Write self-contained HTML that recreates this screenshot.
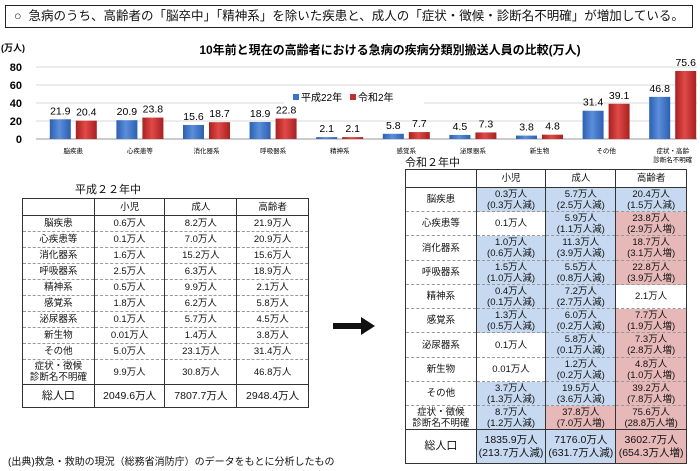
<!DOCTYPE html>
<html><head><meta charset="utf-8">
<style>
*{margin:0;padding:0;box-sizing:border-box}
body{width:700px;height:471px;background:#fff;position:relative;overflow:hidden;font-family:"Liberation Sans","Noto Sans CJK JP",sans-serif;color:#111}
.banner{position:absolute;left:5px;top:5px;width:688px;height:23px;border:1.5px solid #222;font-size:12.5px;line-height:20px;padding-left:8px}
table{position:absolute;border-collapse:collapse;font-size:9.5px;text-align:center}
td{border-left:1.5px solid #333;border-right:1.5px solid #333;border-bottom:1px dashed #999;padding:0;line-height:11px}
table{border:1.5px solid #333}
tr.hd td{border-bottom:1.5px solid #333}
tr.tot td{border-top:1.5px solid #333}
.b{background:#c6d9f0}.p{background:#e6b9b8}
.lab{font-size:9.5px}
</style></head><body>
<div class="banner">○&nbsp; 急病のうち、高齢者の「脳卒中」「精神系」を除いた疾患と、成人の「症状・徴候・診断名不明確」が増加している。</div>

<svg id="chart" width="700" height="170" style="position:absolute;left:0;top:0" font-family="Liberation Sans, Noto Sans CJK JP, sans-serif"></svg>

<div style="position:absolute;left:75px;top:181px;font-size:11px">平成２２年中</div>
<table style="left:22px;top:198px;width:287px">
<colgroup><col style="width:72px"><col style="width:71px"><col style="width:72px"><col style="width:72px"></colgroup>
<tr class="hd" style="height:17px"><td></td><td>小児</td><td>成人</td><td>高齢者</td></tr>
<tr style="height:16px"><td>脳疾患</td><td>0.6万人</td><td>8.2万人</td><td>21.9万人</td></tr>
<tr style="height:16px"><td>心疾患等</td><td>0.1万人</td><td>7.0万人</td><td>20.9万人</td></tr>
<tr style="height:16px"><td>消化器系</td><td>1.6万人</td><td>15.2万人</td><td>15.6万人</td></tr>
<tr style="height:16px"><td>呼吸器系</td><td>2.5万人</td><td>6.3万人</td><td>18.9万人</td></tr>
<tr style="height:16px"><td>精神系</td><td>0.5万人</td><td>9.9万人</td><td>2.1万人</td></tr>
<tr style="height:16px"><td>感覚系</td><td>1.8万人</td><td>6.2万人</td><td>5.8万人</td></tr>
<tr style="height:16px"><td>泌尿器系</td><td>0.1万人</td><td>5.7万人</td><td>4.5万人</td></tr>
<tr style="height:16px"><td>新生物</td><td>0.01万人</td><td>1.4万人</td><td>3.8万人</td></tr>
<tr style="height:16px"><td>その他</td><td>5.0万人</td><td>23.1万人</td><td>31.4万人</td></tr>
<tr style="height:25px"><td>症状・徴候<br>診断名不明確</td><td>9.9万人</td><td>30.8万人</td><td>46.8万人</td></tr>
<tr class="tot" style="height:23px"><td style="font-size:11px">総人口</td><td style="font-size:10.5px">2049.6万人</td><td style="font-size:10.5px">7807.7万人</td><td style="font-size:10.5px">2948.4万人</td></tr>
</table>

<svg width="50" height="20" style="position:absolute;left:333px;top:316px"><rect x="0" y="7" width="30" height="6" fill="#111"/><polygon points="28,1 42,10 28,19" fill="#111"/></svg>

<div style="position:absolute;left:405px;top:154px;font-size:11px">令和２年中</div>
<table style="left:405px;top:169px;width:282px">
<colgroup><col style="width:71px"><col style="width:70px"><col style="width:70px"><col style="width:71px"></colgroup>
<tr class="hd" style="height:18px"><td></td><td>小児</td><td>成人</td><td>高齢者</td></tr>
<tr style="height:24px"><td>脳疾患</td><td class="b">0.3万人<br>(0.3万人減)</td><td class="b">5.7万人<br>(2.5万人減)</td><td class="b">20.4万人<br>(1.5万人減)</td></tr>
<tr style="height:24px"><td>心疾患等</td><td>0.1万人</td><td class="b">5.9万人<br>(1.1万人減)</td><td class="p">23.8万人<br>(2.9万人増)</td></tr>
<tr style="height:25px"><td>消化器系</td><td class="b">1.0万人<br>(0.6万人減)</td><td class="b">11.3万人<br>(3.9万人減)</td><td class="p">18.7万人<br>(3.1万人増)</td></tr>
<tr style="height:24px"><td>呼吸器系</td><td class="b">1.5万人<br>(1.0万人減)</td><td class="b">5.5万人<br>(0.8万人減)</td><td class="p">22.8万人<br>(3.9万人増)</td></tr>
<tr style="height:24px"><td>精神系</td><td class="b">0.4万人<br>(0.1万人減)</td><td class="b">7.2万人<br>(2.7万人減)</td><td>2.1万人</td></tr>
<tr style="height:24px"><td>感覚系</td><td class="b">1.3万人<br>(0.5万人減)</td><td class="b">6.0万人<br>(0.2万人減)</td><td class="p">7.7万人<br>(1.9万人増)</td></tr>
<tr style="height:25px"><td>泌尿器系</td><td>0.1万人</td><td class="b">5.8万人<br>(0.1万人減)</td><td class="p">7.3万人<br>(2.8万人増)</td></tr>
<tr style="height:24px"><td>新生物</td><td>0.01万人</td><td class="b">1.2万人<br>(0.2万人減)</td><td class="p">4.8万人<br>(1.0万人増)</td></tr>
<tr style="height:24px"><td>その他</td><td class="b">3.7万人<br>(1.3万人減)</td><td class="b">19.5万人<br>(3.6万人減)</td><td class="p">39.2万人<br>(7.8万人増)</td></tr>
<tr style="height:24px"><td>症状・徴候<br>診断名不明確</td><td class="b">8.7万人<br>(1.2万人減)</td><td class="p">37.8万人<br>(7.0万人増)</td><td class="p">75.6万人<br>(28.8万人増)</td></tr>
<tr class="tot" style="height:34px"><td style="font-size:11px">総人口</td><td class="b" style="font-size:10.5px;line-height:13px">1835.9万人<br>(213.7万人減)</td><td class="b" style="font-size:10.5px;line-height:13px">7176.0万人<br>(631.7万人減)</td><td class="p" style="font-size:10.5px;line-height:13px">3602.7万人<br>(654.3万人増)</td></tr>
</table>

<div style="position:absolute;left:8px;top:453px;font-size:10px">(出典)救急・救助の現況（総務省消防庁）のデータをもとに分析したもの</div>

<script>
const categories=["脳疾患","心疾患等","消化器系","呼吸器系","精神系","感覚系","泌尿器系","新生物","その他","症状・高齢|診断名不明確"];
const seriesH22=[21.9,20.9,15.6,18.9,2.1,5.8,4.5,3.8,31.4,46.8];
const seriesR2=[20.4,23.8,18.7,22.8,2.1,7.7,7.3,4.8,39.1,75.6];
const yTicks=[0,20,40,60,80];
const NS="http://www.w3.org/2000/svg";
const svg=document.getElementById('chart');
const y0=139,yTop=67,yMax=80;
const yScale=v=>y0-(v/yMax)*(y0-yTop);
const x0=40,step=66.6;
const xCenter=i=>x0+step*(i+0.5);
function mk(tag,attrs,txt){const e=document.createElementNS(NS,tag);for(const k in attrs)e.setAttribute(k,attrs[k]);if(txt!==undefined)e.textContent=txt;svg.appendChild(e);return e;}
const defs=mk('defs',{});
defs.innerHTML='<linearGradient id="gb" x1="0" x2="1"><stop offset="0" stop-color="#2b5fb0"/><stop offset="0.45" stop-color="#5b8fdc"/><stop offset="1" stop-color="#2b5fb0"/></linearGradient><linearGradient id="gr" x1="0" x2="1"><stop offset="0" stop-color="#a82020"/><stop offset="0.45" stop-color="#e04a48"/><stop offset="1" stop-color="#a82020"/></linearGradient>';
let t=mk('text',{x:390,y:54,'font-size':12,'font-weight':'bold','text-anchor':'middle'},'10年前と現在の高齢者における急病の疾病分類別搬送人員の比較(万人)');

t=mk('text',{x:1,y:51,'font-size':9,'font-weight':'bold'},'(万人)');

yTicks.forEach(v=>{
  const g=mk('line',{x1:36,x2:697,y1:yScale(v),y2:yScale(v),stroke:v===0?'#999':'#d8d8d8','stroke-width':1});
  
  const l=mk('text',{x:22,y:yScale(v)+4,'font-size':11,'text-anchor':'end','font-weight':'bold'},String(v));
  
});
// legend
const lg=mk('rect',{x:284,y:88,width:140,height:16,fill:'#fff'});

let r=mk('rect',{x:293,y:94,width:6,height:6,fill:'#3d73c4'});
t=mk('text',{x:301,y:101,'font-size':10},'平成22年');
r=mk('rect',{x:350,y:94,width:6,height:6,fill:'#c0302c'});
t=mk('text',{x:358,y:101,'font-size':10},'令和2年');
const bw=21,gap=5;
categories.forEach((c,i)=>{
  const cx=xCenter(i);
  [[seriesH22[i],'url(#gb)',cx-gap/2-bw,'h22'],[seriesR2[i],'url(#gr)',cx+gap/2,'r2']].forEach(([v,f,x,s])=>{
    const b=mk('rect',{x:x,y:yScale(v),width:bw,height:y0-yScale(v),fill:f});
    
    const vl=mk('text',{x:x+bw/2,y:yScale(v)-5,'font-size':10.5,'text-anchor':'middle'},v.toFixed(1));
    
  });
  c.split('|').forEach((p,k)=>{
    const cl=mk('text',{x:cx,y:153+k*9,'font-size':6.5,'text-anchor':'middle'},p);
    
  });
});
</script>
</body></html>
